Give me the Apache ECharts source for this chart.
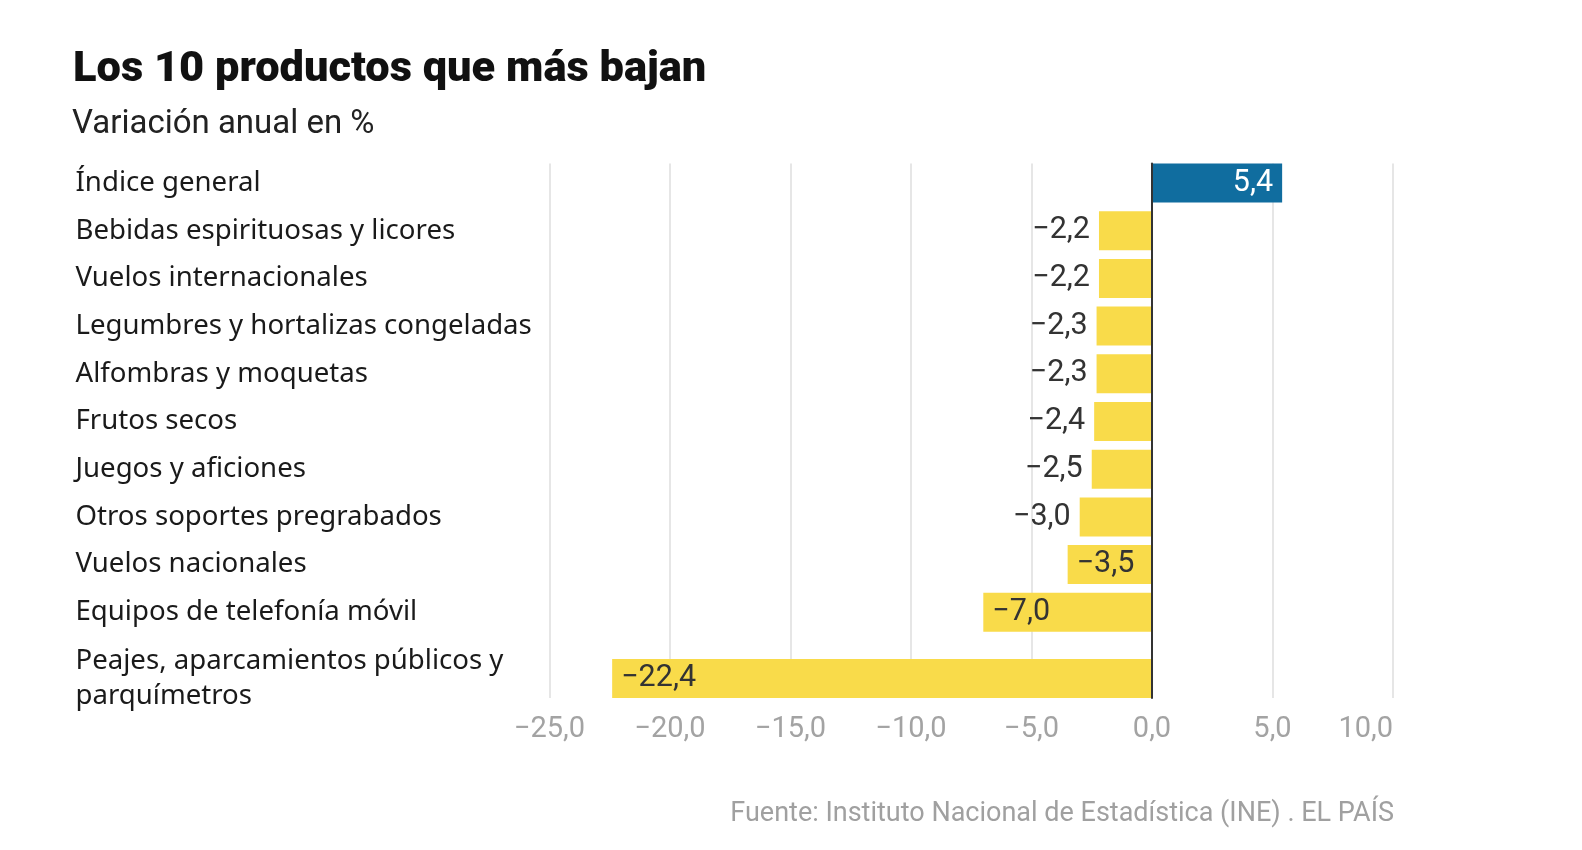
<!DOCTYPE html>
<html>
<head>
<meta charset="utf-8">
<script src="https://cdn.jsdelivr.net/npm/echarts@6/dist/echarts.min.js"></script>
<style>
  html, body { margin: 0; padding: 0; background: #fff; }
  #chart { width: 1582px; height: 850px; }
</style>
</head>
<body>
<div id="chart"></div>
<script>
  var categories = [
    'Índice general',
    'Bebidas espirituosas y licores',
    'Vuelos internacionales',
    'Legumbres y hortalizas congeladas',
    'Alfombras y moquetas',
    'Frutos secos',
    'Juegos y aficiones',
    'Otros soportes pregrabados',
    'Vuelos nacionales',
    'Equipos de telefonía móvil',
    'Peajes, aparcamientos públicos y\nparquímetros'
  ];
  var values = [5.4, -2.2, -2.2, -2.3, -2.3, -2.4, -2.5, -3.0, -3.5, -7.0, -22.4];
  var xTicks = [-25, -20, -15, -10, -5, 0, 5, 10];

  var condensed = "'Roboto', sans-serif";
  var yellow = '#f9db4a';
  var blue = '#106d9f';

  function fmt(v) {
    return v.toFixed(1).replace('.', ',').replace('-', '\u2212');
  }

  function toBar(v) {
    var pos, color;
    if (v > 0) { pos = 'insideRight'; color = '#fff'; }
    else if (v <= -3.5) { pos = 'insideLeft'; color = '#333'; }
    else { pos = 'left'; color = '#333'; }
    return {
      value: v,
      itemStyle: { color: v > 0 ? blue : yellow },
      label: { position: pos, color: color }
    };
  }

  // the last row has a two-line label, so it gets its own taller slot (own grid)
  var nTop = 10;
  var catsTop = categories.slice(0, nTop);
  var catsLast = categories.slice(nTop);
  var valsTop = values.slice(0, nTop).map(toBar);
  var valsLast = values.slice(nTop).map(toBar);

  var catLabel = {
    interval: 0,
    align: 'left',
    margin: 474,
    fontFamily: "'Noto Sans', sans-serif",
    fontSize: 27.6,
    lineHeight: 35.5,
    color: '#1a1a1a'
  };
  var barLabel = {
    show: true,
    fontFamily: condensed,
    fontSize: 30.5,
    distance: 9,
    formatter: function (p) { return fmt(p.value); }
  };
  function hiddenX(i) {
    return {
      type: 'value', gridIndex: i, show: false,
      min: xTicks[0], max: xTicks[xTicks.length - 1], interval: 5,
      splitLine: { show: false }
    };
  }

  var chart = echarts.init(document.getElementById('chart'));
  chart.setOption({
    animation: false,
    backgroundColor: '#fff',
    title: [{
      text: 'Los 10 productos que más bajan',
      left: 68,
      top: 44,
      textStyle: { fontFamily: condensed, fontWeight: 900, fontSize: 43.4, color: '#111' }
    }, {
      text: 'Variación anual en %',
      left: 67,
      top: 103,
      textStyle: { fontFamily: condensed, fontWeight: 'normal', fontSize: 33, color: '#222' }
    }, {
      text: 'Fuente: Instituto Nacional de Estadística (INE) . EL PAÍS',
      right: 183,
      top: 796,
      textStyle: { fontFamily: condensed, fontWeight: 'normal', fontSize: 27, color: '#a0a0a0' }
    }],
    grid: [
      { left: 549.5, right: 189, top: 163.5, bottom: 152 },      // gridlines, ticks, zero line
      { left: 549.5, right: 189, top: 159.15, bottom: 213.85 },  // rows 1-10
      { left: 549.5, right: 189, top: 654.65, bottom: 147.65 }   // last row
    ],
    xAxis: [{
      type: 'value',
      gridIndex: 0,
      min: xTicks[0],
      max: xTicks[xTicks.length - 1],
      interval: 5,
      axisLine: { show: false },
      axisTick: { show: false },
      splitLine: { lineStyle: { color: '#e6e6e6', width: 2 } },
      axisLabel: {
        margin: 17,
        alignMaxLabel: 'right',
        fontFamily: condensed,
        fontSize: 29,
        color: '#a3a3a3',
        formatter: function (v) { return fmt(v); }
      }
    }, hiddenX(1), hiddenX(2)],
    yAxis: [{
      type: 'value',
      gridIndex: 0,
      min: 0,
      max: 1,
      axisLabel: { show: false },
      axisTick: { show: false },
      splitLine: { show: false },
      axisLine: { show: true, onZero: true, lineStyle: { color: '#333', width: 2 } },
      z: 5
    }, {
      type: 'category',
      gridIndex: 1,
      inverse: true,
      data: catsTop,
      axisTick: { show: false },
      axisLine: { show: false },
      axisLabel: catLabel
    }, {
      type: 'category',
      gridIndex: 2,
      inverse: true,
      data: catsLast,
      axisTick: { show: false },
      axisLine: { show: false },
      axisLabel: catLabel
    }],
    series: [{
      type: 'bar',
      xAxisIndex: 1,
      yAxisIndex: 1,
      data: valsTop,
      barWidth: 39,
      label: barLabel
    }, {
      type: 'bar',
      xAxisIndex: 2,
      yAxisIndex: 2,
      data: valsLast,
      barWidth: 39,
      label: barLabel
    }]
  });
</script>
</body>
</html>
